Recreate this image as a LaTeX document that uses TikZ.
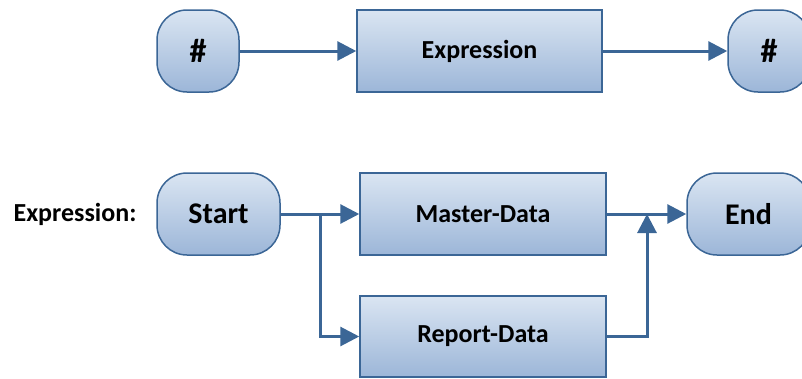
\documentclass[tikz,border=0pt]{standalone}
\usepackage{fontspec}
\setmainfont{Carlito}
\usetikzlibrary{arrows.meta}

\definecolor{edgeblue}{HTML}{3B6696}
\definecolor{filltop}{HTML}{DAE5F2}
\definecolor{fillbot}{HTML}{9CB6D8}

\begin{document}
\begin{tikzpicture}[x=1pt,y=-1pt,
	box/.style={draw=edgeblue,line width=1.5pt,top color=filltop,bottom color=fillbot,
		inner sep=0pt,minimum width=245pt,minimum height=82pt,
		font=\fontsize{26}{30}\selectfont\bfseries},
	term/.style={box,rounded corners=30pt,minimum width=123pt},
	hashterm/.style={term,minimum width=82pt,font=\fontsize{34}{38}\selectfont\bfseries},
	arr/.style={draw=edgeblue,line width=3pt,-{Triangle[length=19pt,width=19pt]}}]
	\useasboundingbox (0,0) rectangle (802,378);
	% top row
	\node[hashterm] (hashL) at (198,51) {\#};
	\node[box] (exprbox) at (479.5,51) {Expression};
	\node[hashterm] (hashR) at (769,51) {\#};
	\draw[arr] (hashL) -- (exprbox);
	\draw[arr] (exprbox) -- (hashR);
	% bottom row
	\node[font=\fontsize{26}{30}\selectfont\bfseries] (exprlabel) at (75,214) {Expression:};
	\node[term,font=\fontsize{30}{34}\selectfont\bfseries] (start) at (218.5,214) {Start};
	\node[box,minimum width=246pt] (master) at (483,214) {Master-Data};
	\node[box,minimum width=246pt,minimum height=81pt] (report) at (483,336.5) {Report-Data};
	\node[term,font=\fontsize{30}{34}\selectfont\bfseries] (end) at (748.5,214) {End};
	\coordinate (split) at (320,214);
	\coordinate (join) at (647,214);
	\draw[arr] (start) -- (master);
	\draw[arr] (split) |- (report);
	\draw[arr] (master) -- (end);
	\draw[arr] (report) -| (join);
\end{tikzpicture}
\end{document}
